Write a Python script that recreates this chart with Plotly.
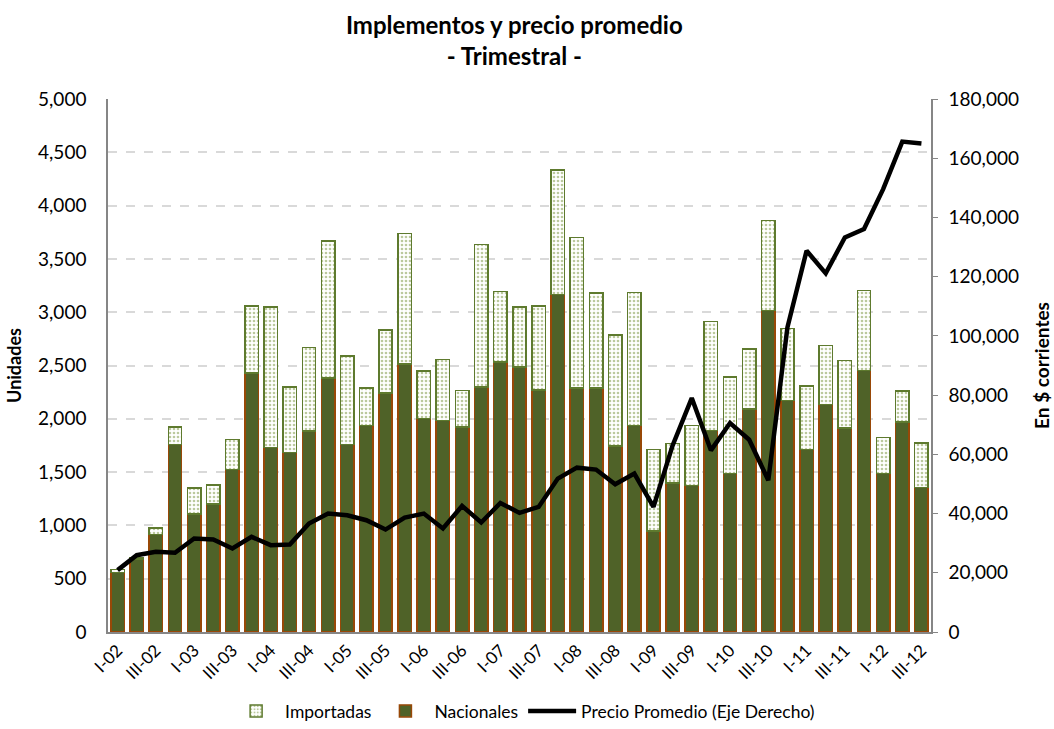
import plotly.graph_objects as go

quarters = []
for yr in range(2, 13):
    for q in ["I", "II", "III", "IV"]:
        quarters.append(f"{q}-{yr:02d}")
quarters = quarters[:43]

total = [585, 700, 975, 1925, 1350, 1378, 1805, 3058, 3050, 2298, 2668, 3667,
         2590, 2291, 2834, 3739, 2447, 2556, 2266, 3633, 3196, 3049, 3056, 4335,
         3702, 3180, 2787, 3187, 1710, 1767, 1938, 2915, 2391, 2656, 3858, 2849,
         2306, 2687, 2547, 3202, 1823, 2260, 1773]
nacionales = [560, 685, 915, 1757, 1105, 1200, 1523, 2430, 1730, 1682, 1885, 2385,
              1757, 1935, 2241, 2515, 2001, 1985, 1923, 2297, 2531, 2484, 2272, 3165,
              2288, 2288, 1745, 1938, 949, 1400, 1376, 1891, 1486, 2094, 3015, 2172,
              1710, 2135, 1916, 2453, 1486, 1969, 1355]
importadas = [t - n for t, n in zip(total, nacionales)]
precio = [20900, 25950, 27070, 26740, 31580, 31240, 28200, 32130, 29330, 29550, 36630, 40000,
          39440, 37750, 34600, 38660, 40000, 34950, 42580, 36970, 43590, 40220, 42240, 51800,
          55500, 54850, 49890, 53490, 42240, 63000, 78990, 61350, 70560, 64940, 51240, 102900,
          128770, 121120, 133260, 136070, 149550, 165620, 164950]
tick_labels = quarters[::2]

FONT = "Lato, Open Sans, sans-serif"

fig = go.Figure()
fig.add_trace(go.Bar(
    x=quarters, y=nacionales, name="Nacionales", legendrank=2,
    marker=dict(color="#4F6228", line=dict(color="#984807", width=1.5)),
))
fig.add_trace(go.Bar(
    x=quarters, y=importadas, name="Importadas", legendrank=1,
    marker=dict(color="white", line=dict(color="#5E7A2E", width=1.5),
                pattern=dict(shape=".", fgcolor="#77933C", bgcolor="white",
                             size=4, solidity=0.35)),
))
fig.add_trace(go.Scatter(
    x=quarters, y=precio, name="Precio Promedio (Eje Derecho)", legendrank=3,
    mode="lines", line=dict(color="black", width=4.5), yaxis="y2",
))

fig.update_layout(
    width=1054, height=729,
    margin=dict(l=108, r=123, t=99, b=97, autoexpand=False),
    paper_bgcolor="white", plot_bgcolor="white",
    barmode="stack", bargap=0.3,
    font=dict(family=FONT, size=16, color="black"),
    title=dict(text="<b>Implementos y precio promedio<br>- Trimestral -</b>",
               x=0.488, xanchor="center", y=0.953, yanchor="top",
               font=dict(family=FONT, size=24, color="black")),
    xaxis=dict(
        type="category", tickmode="array", tickvals=tick_labels, ticktext=tick_labels,
        tickangle=-45, showgrid=False, showline=True, linecolor="#868686", linewidth=1.5,
        ticks="", tickfont=dict(size=17),
    ),
    yaxis=dict(
        range=[0, 5000], dtick=500, tickformat=",", showgrid=True,
        gridcolor="#D9D9D9", griddash="dash", gridwidth=1.5,
        showline=True, linecolor="#868686", linewidth=1.5, ticks="",
        zeroline=False, tickfont=dict(size=19), ticklabelstandoff=16,
        title=dict(text="<b>Unidades</b>", font=dict(size=18), standoff=12),
    ),
    yaxis2=dict(
        range=[0, 180000], dtick=20000, tickformat=",", overlaying="y", side="right",
        showgrid=False, showline=True, linecolor="#868686", linewidth=1.5,
        ticks="outside", ticklen=5, tickcolor="#868686", zeroline=False,
        tickfont=dict(size=19), ticklabelstandoff=7,
        title=dict(text="<b>En $ corrientes</b>", font=dict(size=19), standoff=18),
    ),
    legend=dict(orientation="h", x=0.505, xanchor="center",
                yref="container", y=0.0, yanchor="bottom",
                font=dict(size=17.5), traceorder="normal", itemwidth=48),
)

fig.write_html("out.html", config={"displayModeBar": False},
               post_script="document.body.style.margin='0';")
